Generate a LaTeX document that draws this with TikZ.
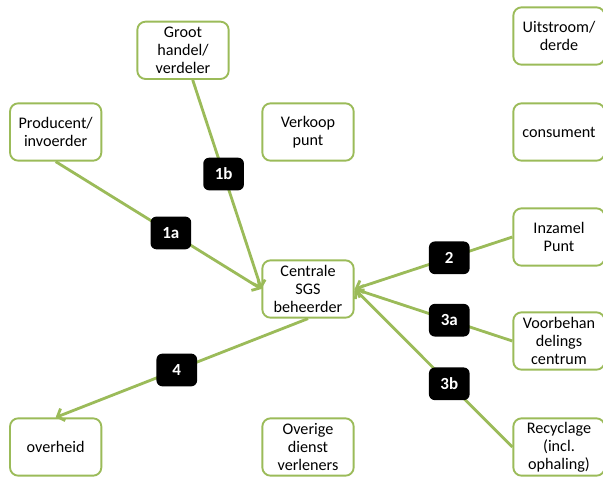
\documentclass[tikz,border=0pt]{standalone}
\usepackage{fontspec}
\setmainfont{Carlito}
\usepackage{xcolor}
\usepackage{tikz}
\usetikzlibrary{arrows.meta}
\definecolor{sgsgreen}{HTML}{9BBB59}
\tikzset{
  myarrow/.style={
    draw=sgsgreen,
    line width=2.4pt,
    -{Straight Barb[length=5pt,width=11pt]},
  },
  mybox/.style={
    draw=sgsgreen,
    shape=rectangle,
    line width=1.6pt,
    rounded corners=7pt,
    fill=white,
    align=center,
    inner sep=2pt,
    minimum width=2.74cm,
    minimum height=1.72cm,
    font=\fontsize{13.8}{15.2}\selectfont
  },
  mylabel/.style={
    fill=black,
    shape=rectangle,
    rounded corners=5pt,
    text=white,
    inner sep=0pt,
    minimum width=1.22cm,
    minimum height=0.98cm,
    font=\fontsize{14.5}{16}\selectfont\bfseries
  }
}

\begin{document}
\begin{tikzpicture}
    \useasboundingbox (0,0) rectangle (18.09,-14.28);

    \node [mybox] (GH)  at ( 5.49,  -1.51) {Groot\\handel/\\verdeler};
    \node [mybox] (P)   at ( 1.67,  -3.96) {Producent/\\invoerder};
    \node [mybox] (VP)  at ( 9.24,  -3.96) {Verkoop\\punt};
    \node [mybox] (U)   at (16.77,  -1.08) {Uitstroom/\\derde};
    \node [mybox] (CO)  at (16.77,  -3.96) {consument};

    \node [mybox] (SGS) at ( 9.24,  -8.67) {Centrale\\SGS\\beheerder};

    \node [mybox] (IP)  at (16.77,  -7.11) {Inzamel\\Punt};
    \node [mybox] (VC)  at (16.77, -10.23) {Voorbehan\\delings\\centrum};
    \node [mybox] (R)   at (16.77, -13.41) {Recyclage\\(incl.\\ophaling)};
    \node [mybox] (O)   at ( 1.67, -13.41) {overheid};
    \node [mybox] (OD)  at ( 9.24, -13.41) {Overige\\dienst\\verleners};

    % Flows towards the central manager
    \draw [myarrow] (P.south) -- node [mylabel, pos=0.56] (L1a) {1a} (SGS.west);
    \draw [myarrow] (GH) -- node [mylabel, pos=0.45] (L1b) {1b} (SGS.west);
    \draw [myarrow] (IP.west) -- node [mylabel, pos=0.40] (L2) {2} (SGS.east);
    \draw [myarrow] (VC.west) -- node [mylabel, pos=0.40] (L3a) {3a} (SGS.east);
    \draw [myarrow] (R.west) -- node [mylabel, pos=0.40] (L3b) {3b} (SGS.east);

    % Flow towards the government
    \draw [myarrow] (SGS.south) -- node [mylabel, pos=0.52] (L4) {4} (O.north);
  \end{tikzpicture}
\end{document}
